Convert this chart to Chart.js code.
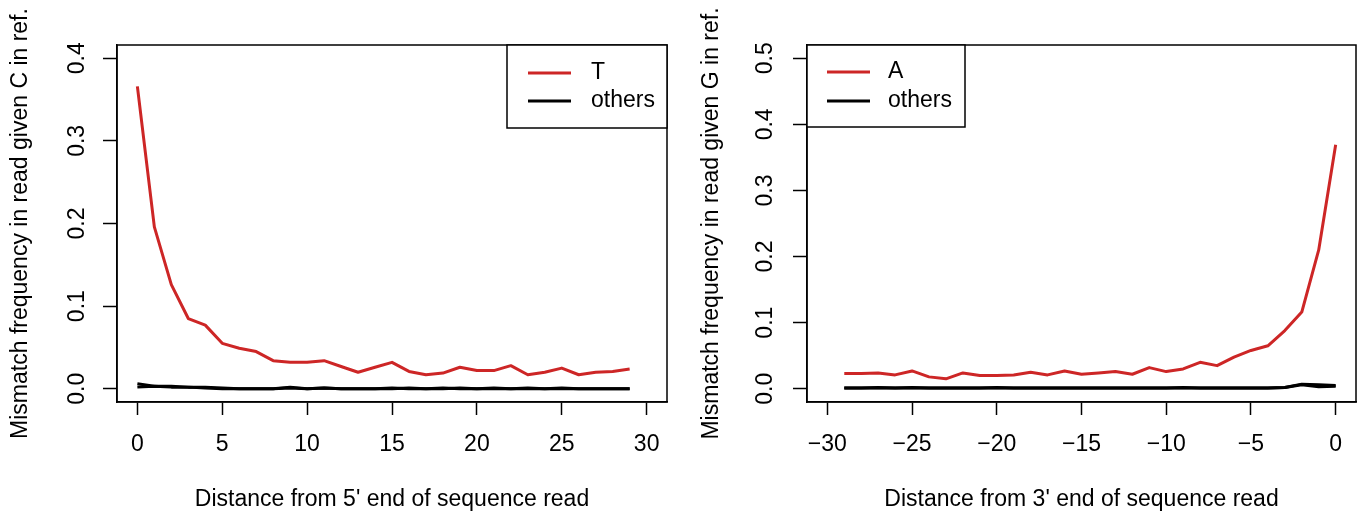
<!DOCTYPE html>
<html><head><meta charset="utf-8">
<script src="https://cdn.jsdelivr.net/npm/chart.js@4/dist/chart.umd.min.js"></script>
<style>
html,body{margin:0;padding:0;background:#fff;}
#wrap{position:relative;width:1365px;height:513px;overflow:hidden;}
canvas{position:absolute;top:0;}
</style></head><body>
<div id="wrap">
<canvas id="c1" width="683" height="513" style="left:0px"></canvas>
<canvas id="c2" width="682" height="513" style="left:683px"></canvas>
</div>
<script>
// ---------- data ----------
const pos5 = [0,1,2,3,4,5,6,7,8,9,10,11,12,13,14,15,16,17,18,19,20,21,22,23,24,25,26,27,28,29];
const ctoT = [0.366,0.196,0.126,0.085,0.077,0.055,0.049,0.045,0.034,0.032,0.032,0.034,0.027,0.020,0.026,0.032,0.021,0.017,0.019,0.026,0.022,0.022,0.028,0.017,0.020,0.025,0.017,0.020,0.021,0.024];
const cOthers1 = [0.006,0.003,0.003,0.002,0.002,0.001,0.000,0.000,0.000,0.002,0.000,0.001,0.000,0.000,0.000,0.000,0.001,0.000,0.001,0.000,0.000,0.000,0.000,0.000,0.000,0.001,0.000,0.000,0.000,0.000];
const cOthers2 = [0.002,0.003,0.002,0.002,0.001,0.000,0.000,0.000,0.000,0.001,0.000,0.001,0.000,0.000,0.000,0.001,0.000,0.000,0.000,0.001,0.000,0.001,0.000,0.001,0.000,0.000,0.000,0.000,0.000,0.000];

const pos3 = [-29,-28,-27,-26,-25,-24,-23,-22,-21,-20,-19,-18,-17,-16,-15,-14,-13,-12,-11,-10,-9,-8,-7,-6,-5,-4,-3,-2,-1,0];
const gtoA = [0.023,0.023,0.024,0.021,0.027,0.018,0.015,0.024,0.020,0.020,0.021,0.025,0.021,0.027,0.022,0.024,0.026,0.022,0.032,0.026,0.030,0.040,0.035,0.048,0.058,0.065,0.088,0.116,0.210,0.369];
const gOthers1 = [0.001,0.001,0.002,0.001,0.002,0.001,0.001,0.001,0.001,0.002,0.001,0.001,0.001,0.001,0.001,0.001,0.001,0.001,0.001,0.001,0.001,0.001,0.001,0.001,0.001,0.001,0.002,0.007,0.006,0.005];
const gOthers2 = [0.001,0.001,0.001,0.001,0.001,0.001,0.001,0.001,0.001,0.001,0.001,0.001,0.001,0.001,0.001,0.001,0.001,0.001,0.001,0.001,0.002,0.001,0.001,0.001,0.001,0.001,0.002,0.006,0.003,0.004];

const xTicksLeft = [0,5,10,15,20,25,30];
const xTickLabelsLeft = ['0','5','10','15','20','25','30'];
const yTicksLeft = [0,0.1,0.2,0.3,0.4];
const yTickLabelsLeft = ['0.0','0.1','0.2','0.3','0.4'];
const xTicksRight = [-30,-25,-20,-15,-10,-5,0];
const xTickLabelsRight = ['\u221230','\u221225','\u221220','\u221215','\u221210','\u22125','0'];
const yTicksRight = [0,0.1,0.2,0.3,0.4,0.5];
const yTickLabelsRight = ['0.0','0.1','0.2','0.3','0.4','0.5'];

// ---------- style ----------
const FAM = '"Liberation Sans", Arial, Helvetica, sans-serif';
const FS = 23;
const RED = '#CD2626';

const boxPlugin = {
  id: 'rbox',
  afterDatasetsDraw(chart) {
    const {ctx, chartArea: a} = chart;
    ctx.save();
    ctx.strokeStyle = '#000'; ctx.lineWidth = 1.5;
    ctx.strokeRect(a.left, a.top, a.right - a.left, a.bottom - a.top);
    ctx.restore();
  }
};
const legendPlugin = {
  id: 'rlegend',
  afterDraw(chart, args, o) {
    const {ctx, chartArea: a} = chart;
    const x0 = o.side === 'right' ? a.right - o.width : a.left;
    const y0 = a.top;
    ctx.save();
    ctx.fillStyle = '#fff';
    ctx.fillRect(x0, y0, o.width, o.height);
    ctx.strokeStyle = '#000'; ctx.lineWidth = 1.5;
    ctx.strokeRect(x0, y0, o.width, o.height);
    const items = chart.data.datasets.filter(d => d.label);
    items.forEach((d, i) => {
      const y = y0 + o.rowTop + i * o.rowGap;
      ctx.strokeStyle = d.borderColor; ctx.lineWidth = 3;
      ctx.beginPath(); ctx.moveTo(x0 + o.lineX1, y); ctx.lineTo(x0 + o.lineX2, y); ctx.stroke();
      ctx.fillStyle = '#000';
      ctx.font = FS + 'px ' + FAM;
      ctx.textBaseline = 'middle'; ctx.textAlign = 'left';
      ctx.fillText(d.label, x0 + o.textX, y);
    });
    ctx.restore();
  }
};

function makeChart(id, c) {
  const ds = (xs, ys, label, color) => ({
    label, data: xs.map((x, i) => ({x, y: ys[i]})), borderColor: color, backgroundColor: color,
    borderWidth: 3, pointRadius: 0, fill: false, tension: 0
  });
  return new Chart(document.getElementById(id), {
    type: 'line',
    data: { datasets: [
      ds(c.xs, c.main, c.mainLabel, RED),
      ds(c.xs, c.o1, 'others', '#000'),
      ds(c.xs, c.o2, '', '#000')
    ]},
    options: {
      responsive: false, animation: false, devicePixelRatio: 1,
      layout: { padding: { left: 0, right: c.padRight, top: 45, bottom: 0 } },
      plugins: { legend: { display: false }, tooltip: { enabled: false }, rlegend: c.legend },
      elements: { line: { borderJoinStyle: 'round', borderCapStyle: 'butt' } },
      scales: {
        x: {
          type: 'linear', min: c.xMin, max: c.xMax, offset: false,
          afterBuildTicks: s => { s.ticks = c.xTicks.map(v => ({value: v})); },
          afterFit: s => { s.height = 111; },
          ticks: { callback: (v, i) => c.xTickLabels[i], color: '#000', font: {family: FAM, size: FS}, padding: 16, maxRotation: 0, autoSkip: false },
          grid: { drawOnChartArea: false, drawTicks: true, tickLength: 13, tickColor: '#000', tickWidth: 1.5 },
          border: { display: true, color: '#000', width: 1.5 },
          title: { display: true, text: c.xTitle, color: '#000', font: {family: FAM, size: FS}, padding: {top: 0, bottom: 0} }
        },
        y: {
          type: 'linear', min: c.yMin, max: c.yMax,
          afterBuildTicks: s => { s.ticks = c.yTicks.map(v => ({value: v})); },
          afterFit: s => { s.width = c.yWidth; },
          ticks: { callback: (v, i) => c.yTickLabels[i], color: '#000', font: {family: FAM, size: FS}, padding: c.yTickPad, minRotation: 90, maxRotation: 90, crossAlign: 'center', autoSkip: false },
          grid: { drawOnChartArea: false, drawTicks: true, tickLength: 14, tickColor: '#000', tickWidth: 1.5 },
          border: { display: true, color: '#000', width: 1.5 },
          title: { display: true, text: c.yTitle, color: '#000', font: {family: FAM, size: FS}, padding: {top: c.yTitlePad, bottom: 0} }
        }
      }
    },
    plugins: [boxPlugin, legendPlugin]
  });
}

makeChart('c1', {
  xs: pos5, main: ctoT, o1: cOthers1, o2: cOthers2, mainLabel: 'T',
  xMin: -1.2, xMax: 31.2, yMin: -0.016, yMax: 0.416,
  xTicks: xTicksLeft, xTickLabels: xTickLabelsLeft, yTicks: yTicksLeft, yTickLabels: yTickLabelsLeft,
  xTitle: "Distance from 5' end of sequence read",
  yTitle: 'Mismatch frequency in read given C in ref.',
  yWidth: 117, padRight: 16, yTickPad: 9, yTitlePad: 7,
  legend: { side: 'right', width: 160, height: 83, rowTop: 28, rowGap: 28, lineX1: 21, lineX2: 64, textX: 84 }
});
makeChart('c2', {
  xs: pos3, main: gtoA, o1: gOthers1, o2: gOthers2, mainLabel: 'A',
  xMin: -31.2, xMax: 1.2, yMin: -0.02, yMax: 0.52,
  xTicks: xTicksRight, xTickLabels: xTickLabelsRight, yTicks: yTicksRight, yTickLabels: yTickLabelsRight,
  xTitle: "Distance from 3' end of sequence read",
  yTitle: 'Mismatch frequency in read given G in ref.',
  yWidth: 124, padRight: 9, yTickPad: 11, yTitlePad: 15,
  legend: { side: 'left', width: 158, height: 82, rowTop: 27, rowGap: 29, lineX1: 20, lineX2: 63, textX: 81 }
});
</script>
</body></html>
